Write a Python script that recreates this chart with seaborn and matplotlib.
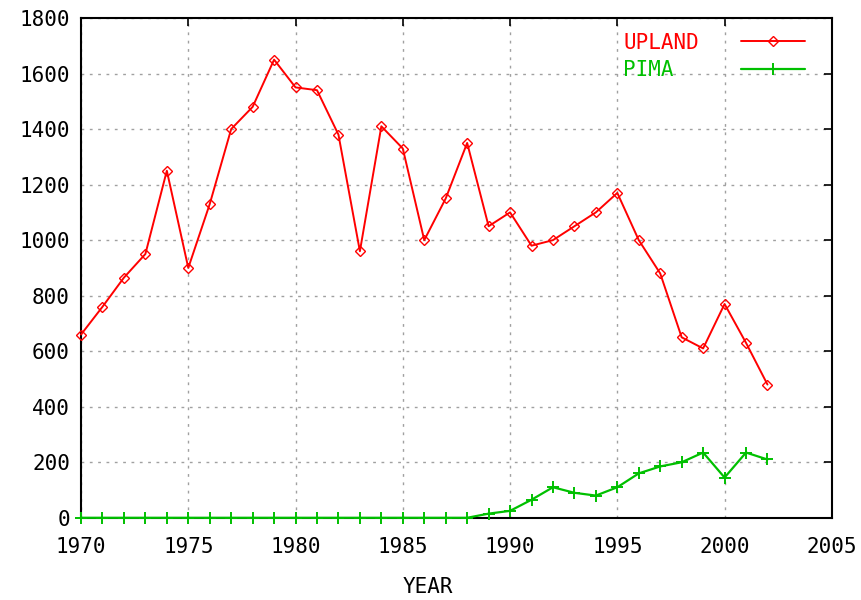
import pandas as pd
import seaborn as sns
import matplotlib.pyplot as plt

# cotton acreage by year
years = list(range(1970, 2003))
upland = [660, 760, 865, 950, 1250, 900, 1130, 1400, 1480, 1650,
          1550, 1540, 1380, 960, 1410, 1330, 1000, 1150, 1350, 1050,
          1100, 980, 1000, 1050, 1100, 1170, 1000, 880, 650, 610,
          770, 630, 480]
pima = [0] * 19 + [15, 25, 65, 110, 90, 80, 110, 160, 185, 200,
                   235, 145, 235, 210]

df = pd.DataFrame({"YEAR": years, "UPLAND": upland, "PIMA": pima})

sns.set_style("white")
plt.rcParams["font.family"] = ["DejaVu Sans Mono", "DejaVu Sans"]
plt.rcParams["text.color"] = "black"

fig, ax = plt.subplots(figsize=(8.62, 6), dpi=100)
fig.subplots_adjust(left=0.094, right=0.965, top=0.97, bottom=0.137)

red, green = "#ff0000", "#00c000"
sns.lineplot(data=df, x="YEAR", y="UPLAND", ax=ax, color=red, lw=1.4,
             marker="D", markersize=5, markerfacecolor="none",
             markeredgecolor=red, markeredgewidth=1.0, label="UPLAND",
             zorder=3, clip_on=False)
# pad the shorter label so both legend texts start at the same x
sns.lineplot(data=df, x="YEAR", y="PIMA", ax=ax, color=green, lw=1.6,
             marker="+", markersize=9, markeredgecolor=green,
             markeredgewidth=1.4, label="PIMA  ", zorder=3, clip_on=False)

ax.set_xlim(1970, 2005)
ax.set_ylim(0, 1800)
ax.set_xticks(range(1970, 2006, 5))
ax.set_yticks(range(0, 1801, 200))
ax.tick_params(direction="in", length=6, width=1.2, top=True, right=True,
               labelsize=15, pad=8, colors="black")
ax.tick_params(axis="x", pad=14)
ax.grid(True, linestyle=(0, (2, 4)), color="#a0a0a0", linewidth=1.0)
for s in ax.spines.values():
    s.set_color("black")
    s.set_linewidth(1.5)

ax.set_ylabel("")
ax.set_xlabel("YEAR", fontsize=15, color="black")
ax.xaxis.set_label_coords(0.462, -0.138)
ax.xaxis.label.set_va("center")

leg = ax.legend(loc="upper right", bbox_to_anchor=(0.984, 1.0),
                frameon=False, markerfirst=False,
                labelcolor="linecolor", fontsize=15, handlelength=3.1,
                handletextpad=2.0, borderaxespad=0.3, labelspacing=0.35)

plt.savefig("out.png", dpi=100)
